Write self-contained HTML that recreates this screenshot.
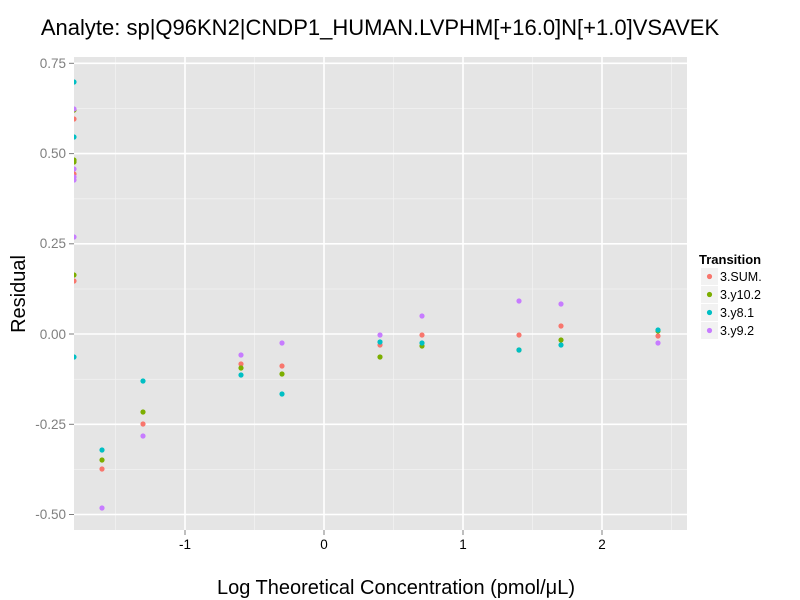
<!DOCTYPE html>
<html><head><meta charset="utf-8"><style>body{margin:0;background:#fff}svg{display:block;font-family:"Liberation Sans",sans-serif}</style></head>
<body>
<svg width="800" height="600" viewBox="0 0 800 600">
<defs><clipPath id="c"><rect x="74" y="57" width="613" height="473"/></clipPath></defs>
<text x="380" y="35" font-size="22" text-anchor="middle" fill="#000">Analyte: sp|Q96KN2|CNDP1_HUMAN.LVPHM[+16.0]N[+1.0]VSAVEK</text>
<rect x="74" y="57" width="613" height="473" fill="#e5e5e5"/>
<g stroke="#f2f2f2" stroke-width="0.8">
<line x1="74" x2="687" y1="108.5" y2="108.5"/><line x1="74" x2="687" y1="289" y2="289"/><line x1="74" x2="687" y1="198.8" y2="198.8"/><line x1="74" x2="687" y1="379.3" y2="379.3"/><line x1="74" x2="687" y1="469.5" y2="469.5"/>
<line x1="115.5" x2="115.5" y1="57" y2="530"/><line x1="254.5" x2="254.5" y1="57" y2="530"/><line x1="393.5" x2="393.5" y1="57" y2="530"/><line x1="532.5" x2="532.5" y1="57" y2="530"/><line x1="671.5" x2="671.5" y1="57" y2="530"/>
</g>
<g stroke="#fff" stroke-width="1.6">
<line x1="74" x2="687" y1="63.3" y2="63.3"/><line x1="74" x2="687" y1="153.6" y2="153.6"/><line x1="74" x2="687" y1="243.8" y2="243.8"/><line x1="74" x2="687" y1="334" y2="334"/><line x1="74" x2="687" y1="424.3" y2="424.3"/><line x1="74" x2="687" y1="514.5" y2="514.5"/>
<line x1="185" x2="185" y1="57" y2="530"/><line x1="324" x2="324" y1="57" y2="530"/><line x1="463" x2="463" y1="57" y2="530"/><line x1="602" x2="602" y1="57" y2="530"/>
</g>
<g font-size="13.5" fill="#7f7f7f" text-anchor="end">
<text x="66" y="68">0.75</text><text x="66" y="158">0.50</text><text x="66" y="248">0.25</text><text x="66" y="339">0.00</text><text x="66" y="429">-0.25</text><text x="66" y="519">-0.50</text>
</g>
<g stroke="#7f7f7f"><line x1="69" x2="74" y1="63.3" y2="63.3"/><line x1="69" x2="74" y1="153.6" y2="153.6"/><line x1="69" x2="74" y1="243.8" y2="243.8"/><line x1="69" x2="74" y1="334" y2="334"/><line x1="69" x2="74" y1="424.3" y2="424.3"/><line x1="69" x2="74" y1="514.5" y2="514.5"/>
<line x1="185" x2="185" y1="530" y2="535"/><line x1="324" x2="324" y1="530" y2="535"/><line x1="463" x2="463" y1="530" y2="535"/><line x1="602" x2="602" y1="530" y2="535"/></g>
<g font-size="13.5" fill="#000" text-anchor="middle"><text x="185" y="549">-1</text><text x="324" y="549">0</text><text x="463" y="549">1</text><text x="602" y="549">2</text></g>
<text x="396" y="594" font-size="20" text-anchor="middle">Log Theoretical Concentration (pmol/μL)</text>
<text transform="translate(25,294) rotate(-90)" font-size="20" text-anchor="middle">Residual</text>
<g clip-path="url(#c)">
<g fill="#F8766D"><circle cx="74" cy="119" r="2.6"/><circle cx="74" cy="174" r="2.6"/><circle cx="74" cy="281" r="2.6"/><circle cx="102" cy="469" r="2.6"/><circle cx="143" cy="424" r="2.6"/><circle cx="241" cy="364" r="2.6"/><circle cx="282" cy="366" r="2.6"/><circle cx="380" cy="345" r="2.6"/><circle cx="422" cy="335" r="2.6"/><circle cx="519" cy="335" r="2.6"/><circle cx="561" cy="326" r="2.6"/><circle cx="658" cy="336" r="2.6"/></g>
<g fill="#7CAE00"><circle cx="74" cy="110" r="2.6"/><circle cx="74" cy="160" r="2.6"/><circle cx="74" cy="162" r="2.6"/><circle cx="74" cy="275" r="2.6"/><circle cx="102" cy="460" r="2.6"/><circle cx="143" cy="412" r="2.6"/><circle cx="241" cy="368" r="2.6"/><circle cx="282" cy="374" r="2.6"/><circle cx="380" cy="357" r="2.6"/><circle cx="422" cy="346" r="2.6"/><circle cx="519" cy="350" r="2.6"/><circle cx="561" cy="340" r="2.6"/><circle cx="658" cy="331" r="2.6"/></g>
<g fill="#00BFC4"><circle cx="74" cy="82" r="2.6"/><circle cx="74" cy="137" r="2.6"/><circle cx="74" cy="357" r="2.6"/><circle cx="102" cy="450" r="2.6"/><circle cx="143" cy="381" r="2.6"/><circle cx="241" cy="375" r="2.6"/><circle cx="282" cy="394" r="2.6"/><circle cx="380" cy="342" r="2.6"/><circle cx="422" cy="343" r="2.6"/><circle cx="519" cy="350" r="2.6"/><circle cx="561" cy="345" r="2.6"/><circle cx="658" cy="330" r="2.6"/></g>
<g fill="#C77CFF"><circle cx="74" cy="109" r="2.6"/><circle cx="74" cy="169" r="2.6"/><circle cx="74" cy="177" r="2.6"/><circle cx="74" cy="180" r="2.6"/><circle cx="74" cy="237" r="2.6"/><circle cx="102" cy="508" r="2.6"/><circle cx="143" cy="436" r="2.6"/><circle cx="241" cy="355" r="2.6"/><circle cx="282" cy="343" r="2.6"/><circle cx="380" cy="335" r="2.6"/><circle cx="422" cy="316" r="2.6"/><circle cx="519" cy="301" r="2.6"/><circle cx="561" cy="304" r="2.6"/><circle cx="658" cy="343" r="2.6"/></g>
</g>
<text x="699" y="264" font-size="13" font-weight="bold">Transition</text>
<g fill="#f2f2f2"><rect x="701" y="268" width="17" height="17"/><rect x="701" y="286" width="17" height="17"/><rect x="701" y="304" width="17" height="17"/><rect x="701" y="322" width="17" height="17"/></g>
<circle cx="709.5" cy="276.5" r="2.6" fill="#F8766D"/><circle cx="709.5" cy="294.5" r="2.6" fill="#7CAE00"/><circle cx="709.5" cy="312.5" r="2.6" fill="#00BFC4"/><circle cx="709.5" cy="330.5" r="2.6" fill="#C77CFF"/>
<g font-size="12.5"><text x="720" y="281">3.SUM.</text><text x="720" y="299">3.y10.2</text><text x="720" y="317">3.y8.1</text><text x="720" y="335">3.y9.2</text></g>
</svg>
</body></html>
